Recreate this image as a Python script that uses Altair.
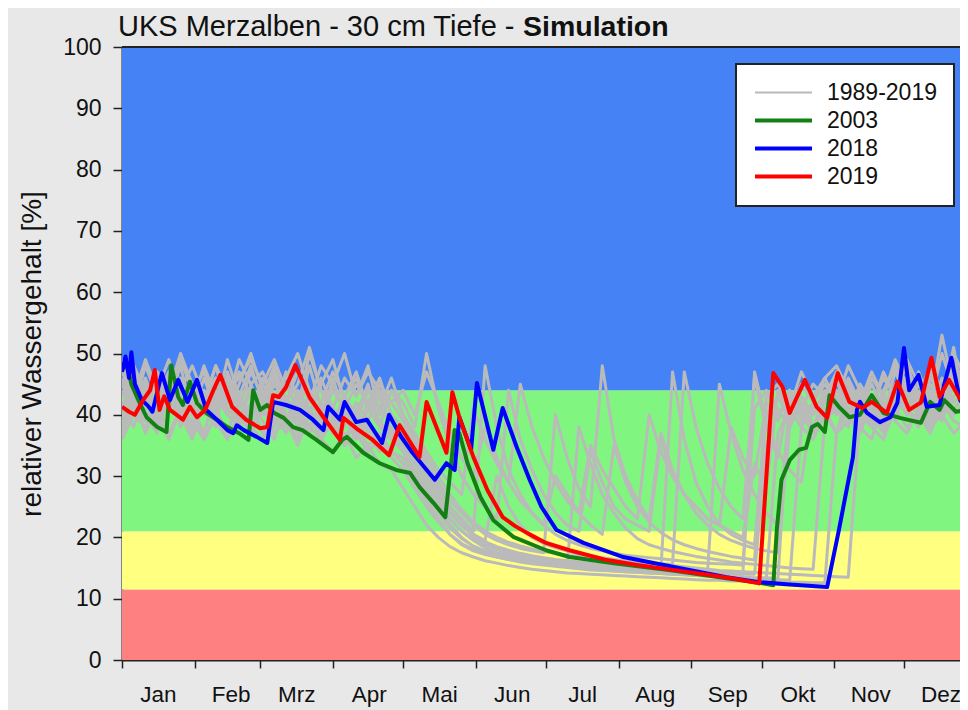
import json
import altair as alt
import pandas as pd

# ---------------- data ----------------
month_names = ["Jan", "Feb", "Mrz", "Apr", "Mai", "Jun", "Jul", "Aug", "Sep", "Okt", "Nov", "Dez"]
month_starts = [0, 31, 59, 90, 120, 151, 181, 212, 243, 273, 304, 334]

band_names = ["trocken", "mäßig", "frisch", "feucht"]
band_low = [0, 11.5, 21, 44]
band_high = [11.5, 21, 44, 100]
band_colors = ["#ff8080", "#ffff80", "#80f580", "#4582f5"]

legend_groups = ["1989-2019", "2003", "2018", "2019"]
line_colors = ["#bababa", "#128012", "#0000ff", "#ff0000"]
line_widths = [2, 4, 4, 4]

y2003_days = [0, 2, 4, 7, 10.5, 15, 19, 21, 24, 26, 29, 32, 36, 40.5, 45, 50, 54, 56, 59, 62,
              65, 69, 73, 77, 83, 90, 94, 96, 103, 110, 117, 123, 127, 133, 138, 142, 144, 147.5, 153, 158.5,
              167, 181, 191, 210, 235, 255, 272, 278, 279.5, 281.5, 285, 289, 292, 294.5, 297, 300, 302, 306, 310.5, 315,
              320, 325, 332, 341, 345, 349, 351, 356, 361]
y2003_vals = [47.3, 48.4, 45, 42.4, 39.6, 38, 37.2, 48.1, 42.9, 41.6, 45.4, 41.9, 40.3, 39.2, 38, 37, 35.9, 44, 40.8, 41.6,
              40.3, 39.5, 38, 37.5, 35.9, 33.9, 35.9, 36.4, 33.8, 32.1, 31, 30.5, 28.2, 25.6, 23.3, 37.5, 37, 32.1, 26.6, 22.8,
              20.1, 17.9, 16.8, 15.8, 14.6, 13.5, 12.6, 12.2, 21.2, 29.4, 32.6, 34.3, 34.6, 38, 38.5, 37.2, 43.2, 41.3, 39.6, 40,
              43.2, 40.3, 39.5, 38.7, 42.1, 40.8, 42.4, 40.5, 40.8]

y2018_days = [0, 1.5, 3, 4, 5.5, 8.5, 11, 13, 17, 20.5, 24, 28, 32, 36, 40.5, 45, 47.5, 49, 52, 57.5,
              62, 64.5, 70, 76, 81.5, 86, 88, 93, 95, 100, 104.5, 111, 114, 119, 124, 129, 133.5, 138.5, 142, 144,
              149, 151.5, 158.5, 162.5, 168.5, 174, 179, 185.5, 197, 214, 235, 258, 272, 285, 301, 306, 312, 313.7, 315, 318,
              323.5, 328, 331, 333.8, 336, 340, 343.5, 349, 351, 354, 357.7, 361]
y2018_vals = [47, 49.5, 46, 50.2, 45, 42.4, 41.5, 40.5, 46.8, 42.4, 45.7, 42.1, 45.7, 40.8, 39.2, 37.5, 37, 38.3, 37.5, 36.4,
              35.4, 42.1, 41.6, 40.8, 39.2, 37.5, 41.3, 39.2, 42.1, 38.8, 39.2, 35.4, 40, 36.5, 33.8, 31.5, 29.4, 32.1, 31, 39.6,
              34.3, 45.2, 34.3, 41.1, 34.7, 29.4, 25, 21.2, 19.1, 16.8, 15.2, 13.5, 12.7, 12.3, 11.9, 21.2, 33.1, 40.8, 42.1, 40.3,
              38.8, 39.6, 42, 50.9, 44, 46.5, 41.3, 41.6, 45, 49.3, 42.4, 40.8]

y2019_days = [0, 3, 5.5, 9, 12, 14, 16, 18, 20.5, 26, 29, 32, 35.5, 39, 42, 47, 53, 59, 62, 64.5,
              67, 70, 74, 80, 86, 90, 93, 94.5, 100, 107, 114, 118.5, 127, 130, 138.5, 141, 144, 150, 156, 162.5,
              168, 173, 181, 191, 207, 220, 235, 250, 262, 272, 278, 282, 285, 291.5, 296.5, 301, 305.5, 310.5, 316, 320,
              326.5, 331, 336, 341, 345.5, 349, 353, 358]
y2019_vals = [41.3, 40.5, 40, 42.4, 44, 47.3, 40.8, 43, 40.8, 39.2, 41.3, 39.6, 40.8, 44, 46.5, 41.3, 39.2, 37.8, 38, 43.2,
              42.9, 44.5, 48.1, 42.9, 39.6, 37.5, 35.9, 39.5, 37.8, 35.9, 33.4, 38.3, 33.1, 42.1, 33.8, 43.7, 39.6, 33.1, 27.7, 23.3,
              21.8, 20.7, 19.1, 17.9, 16.3, 15.5, 14.7, 13.9, 13.2, 12.5, 46.8, 44.5, 40.3, 45.7, 41.3, 39.5, 46.8, 42.1, 41.1, 42.1,
              40.3, 45.4, 40.8, 42, 49.3, 42.9, 45.7, 42.4]

# grey ensemble (years 1989-2019), sampled every 5 days
grey_days = list(range(0, 361, 5))
grey_1 = [44, 40, 46, 41, 43, 39, 45, 41, 38, 47, 42, 40,
          44, 39, 45, 41, 38, 42, 37, 40, 36, 39, 35, 34,
          32, 29, 26, 23, 20.5, 18.8, 17.8, 17.2, 16.8, 16.4, 16.1, 15.9,
          15.6, 15.4, 15.2, 15.0, 14.8, 14.7, 14.5, 14.4, 14.3, 14.2, 14.1, 14.0,
          13.9, 13.8, 13.7, 13.6, 13.5, 13.4, 13.3, 13.2, 37, 41, 38, 42,
          39, 41, 44, 40, 38, 43, 41, 46, 42, 39, 44, 41,
          43]
grey_2 = [41, 47, 43, 38, 44, 40, 36, 42, 48, 41, 39, 45,
          40, 46, 42, 39, 48, 41, 37, 43, 40, 45, 38, 36,
          34, 31, 28, 25, 22, 20, 18.5, 17.6, 17, 16.6, 16.3, 16,
          15.8, 15.6, 15.4, 38, 32, 27, 24, 21.5, 19.8, 18.8, 18.2, 17.7,
          17.3, 16.9, 16.6, 16.3, 16, 15.8, 15.6, 15.4, 15.2, 15, 14.9, 14.8,
          39, 42, 40, 45, 41, 38, 44, 40, 47, 42, 39, 45,
          41]
grey_3 = [46, 42, 39, 44, 49, 43, 40, 46, 41, 37, 43, 48,
          42, 38, 45, 41, 50, 44, 39, 43, 47, 41, 38, 44,
          40, 37, 34, 31, 29, 27, 41, 36, 32, 29, 45, 38,
          33, 29, 26, 24, 35, 31, 28, 25, 23, 40, 34, 30,
          27, 25, 23, 22, 38, 33, 30, 42, 39, 44, 41, 38,
          43, 40, 46, 42, 39, 44, 48, 41, 38, 45, 42, 47,
          43]
grey_4 = [39, 43, 37, 41, 45, 38, 42, 36, 40, 44, 38, 42,
          37, 41, 39, 36, 44, 40, 38, 35, 41, 37, 34, 38,
          35, 32, 29, 26, 23, 21, 19.5, 18.3, 17.5, 17, 16.6, 16.3,
          16, 15.8, 15.6, 15.4, 15.2, 15.1, 15, 14.9, 14.8, 14.7, 14.6, 47,
          36, 29, 25, 22, 20.5, 19.5, 18.8, 40, 43, 39, 42, 38,
          41, 37, 44, 40, 38, 42, 39, 45, 41, 38, 43, 40,
          42]
grey_5 = [42, 38, 44, 40, 36, 41, 37, 43, 39, 36, 40, 38,
          41, 37, 39, 35, 40, 36, 34, 37, 33, 35, 32, 31,
          28, 25, 22, 20, 18.5, 17.5, 16.8, 16.2, 15.8, 15.4, 15.1, 14.8,
          14.6, 14.4, 14.2, 14.1, 14, 13.9, 13.8, 13.7, 13.6, 13.5, 13.4, 13.3,
          13.2, 13.1, 13, 13, 12.9, 12.9, 12.8, 12.8, 12.7, 12.7, 12.7, 12.6,
          12.6, 37, 41, 38, 36, 42, 39, 37, 41, 38, 40, 37,
          39]
grey_6 = [47, 43, 49, 44, 41, 46, 42, 48, 43, 40, 45, 50,
          44, 41, 47, 43, 40, 45, 49, 42, 39, 44, 41, 46,
          40, 36, 32, 28, 25, 23, 21, 48, 38, 31, 27, 24,
          22, 20.5, 19.5, 18.8, 18.2, 17.8, 17.4, 17.1, 16.9, 16.7, 16.5, 16.3,
          16.1, 15.9, 15.8, 15.7, 15.6, 15.5, 41, 44, 40, 43, 39, 42,
          46, 42, 40, 44, 41, 47, 43, 40, 45, 42, 50, 44,
          46]
grey_7 = [40, 45, 42, 47, 43, 39, 44, 41, 46, 40, 43, 39,
          45, 42, 38, 43, 40, 46, 41, 38, 42, 39, 43, 37,
          36, 34, 31, 28, 25, 22.5, 20.5, 19.3, 18.5, 17.9, 17.4, 17,
          16.7, 16.4, 16.2, 16, 15.8, 15.6, 15.4, 15.3, 15.2, 15.1, 15, 14.9,
          14.8, 14.7, 14.6, 45, 37, 31, 27, 24, 22, 41, 38, 42,
          40, 44, 41, 38, 43, 39, 45, 42, 40, 46, 43, 48,
          44]
grey_8 = [43, 48, 44, 40, 46, 42, 38, 44, 41, 49, 43, 40,
          46, 43, 39, 44, 41, 38, 45, 41, 37, 42, 39, 36,
          37, 33, 30, 27, 24, 22, 20.2, 19, 18.2, 17.6, 17.1, 16.7,
          16.4, 16.1, 15.9, 15.7, 15.5, 15.3, 15.2, 15, 14.9, 14.8, 14.7, 14.6,
          14.5, 14.4, 14.3, 14.2, 14.1, 14, 14, 35, 41, 38, 43, 40,
          44, 41, 38, 45, 42, 40, 47, 43, 41, 44, 40, 46,
          42]
grey_9 = [45, 41, 48, 43, 46, 40, 44, 47, 42, 45, 41, 47,
          43, 48, 42, 45, 51, 44, 41, 46, 43, 48, 40, 44,
          42, 38, 50, 41, 35, 30, 27, 25, 23, 44, 36, 31,
          27, 24, 22, 21, 34, 29, 25, 23, 22, 21, 36, 30,
          27, 25, 23, 22, 21, 20, 32, 28, 44, 40, 45, 42,
          45, 42, 48, 44, 41, 46, 43, 49, 45, 42, 53, 44,
          47]
grey_10 = [38, 42, 40, 37, 43, 39, 41, 37, 44, 40, 38, 42,
           39, 36, 42, 38, 41, 37, 40, 36, 38, 35, 37, 34,
           33, 30, 28, 25, 23, 21, 19.8, 18.8, 18, 17.4, 16.9, 16.5,
           16.2, 15.9, 15.7, 15.5, 15.3, 15.1, 15, 14.9, 14.8, 14.7, 14.6, 14.5,
           14.4, 14.3, 14.2, 14.1, 14, 14, 47, 39, 34, 31, 29, 42,
           39, 43, 40, 37, 42, 38, 44, 41, 39, 43, 40, 45,
           41]
grey_11 = [48, 44, 41, 46, 42, 49, 44, 40, 45, 42, 47, 43,
           40, 45, 42, 47, 43, 39, 44, 41, 45, 42, 46, 40,
           38, 35, 32, 29, 26, 24, 22, 20.5, 19.5, 18.8, 18.2, 17.8,
           17.5, 40, 33, 28, 25, 48, 36, 30, 26, 23, 37, 31,
           27, 24, 22, 20.5, 19.5, 18.8, 18.2, 17.8, 17.5, 38, 42, 40,
           43, 46, 42, 40, 45, 41, 44, 48, 43, 40, 46, 42,
           44]
grey_12 = [41, 46, 39, 43, 47, 41, 38, 43, 40, 45, 39, 44,
           41, 38, 43, 40, 37, 42, 39, 36, 40, 38, 35, 39,
           36, 33, 30, 27, 24, 22, 20.5, 19.5, 30, 25, 22, 20,
           19, 18.3, 17.8, 17.3, 17, 16.7, 16.4, 16.2, 16, 15.8, 15.6, 15.4,
           15.2, 15, 14.8, 14.6, 14.5, 14.4, 14.3, 14.2, 14.1, 14, 13.9, 13.8,
           13.7, 13.6, 13.5, 40, 43, 39, 42, 46, 41, 44, 41, 43,
           45]
grey_13 = [37, 41, 45, 39, 42, 48, 40, 37, 43, 46, 40, 37,
           42, 47, 40, 37, 43, 39, 46, 40, 36, 41, 44, 37,
           34, 30, 27, 24, 21.5, 19.8, 18.6, 17.8, 17.2, 16.7, 16.3, 16,
           15.7, 15.5, 15.3, 15.1, 14.9, 14.8, 14.6, 14.5, 14.4, 14.3, 14.2, 14.1,
           14, 13.9, 13.8, 13.7, 13.6, 13.5, 13.4, 13.4, 13.3, 44, 40, 37,
           42, 46, 39, 43, 40, 37, 44, 49, 41, 38, 42, 51,
           40]
grey_14 = [49, 45, 42, 47, 44, 50, 45, 42, 48, 44, 46, 49,
           45, 49, 44, 47, 42, 48, 45, 50, 43, 47, 44, 42,
           44, 40, 47, 42, 37, 33, 30, 38, 33, 29, 26, 24,
           22, 30, 27, 24, 22, 20.5, 35, 29, 25, 22.5, 20.8, 19.6,
           18.8, 18.2, 17.7, 17.3, 16.9, 16.6, 16.3, 43, 45, 41, 47, 43,
           46, 48, 44, 42, 47, 43, 49, 45, 43, 48, 44, 50,
           46]
grey_15 = [36, 40, 38, 42, 37, 41, 39, 36, 40, 37, 43, 38,
           36, 40, 37, 41, 38, 36, 39, 35, 37, 34, 36, 33,
           31, 28, 25, 22.5, 20.5, 19, 18, 17.3, 16.8, 16.4, 16, 15.7,
           15.5, 15.3, 15.1, 14.9, 14.7, 14.6, 14.5, 14.4, 14.3, 14.2, 14.1, 14,
           13.9, 13.8, 13.7, 13.6, 13.5, 13.4, 13.3, 13.2, 13.1, 13, 38, 36,
           40, 37, 39, 42, 38, 36, 41, 38, 40, 37, 42, 39,
           38]
grey_16 = [45, 48, 43, 46, 41, 44, 48, 43, 46, 42, 49, 45,
           47, 43, 46, 50, 44, 42, 47, 43, 46, 41, 45, 42,
           39, 36, 33, 30, 27, 24.5, 22.5, 21, 20, 19.2, 18.6, 18.1,
           17.7, 17.4, 17.1, 16.9, 16.7, 16.5, 16.3, 16.1, 15.9, 15.8, 15.7, 15.6,
           47, 38, 32, 28, 25, 23, 46, 38, 33, 44, 41, 45,
           43, 47, 45, 41, 46, 43, 48, 44, 41, 47, 43, 46,
           48]
grey_series = [grey_1, grey_2, grey_3, grey_4, grey_5, grey_6, grey_7, grey_8,
               grey_9, grey_10, grey_11, grey_12, grey_13, grey_14, grey_15, grey_16]

title_main = "UKS Merzalben - 30 cm Tiefe - "
title_bold = "Simulation"
y_title = "relativer Wassergehalt [%]"

# ---------------- layout ----------------
W, H = 838, 613
X_MAX = 357.7
FONT = "Liberation Sans"
DARK = "#222222"
TXT = "#111111"


def frame(group, days, vals, series):
    n = min(len(days), len(vals))
    return pd.DataFrame({"day": days[:n], "val": vals[:n], "group": group, "series": series})


grey_df = pd.concat([frame("1989-2019", grey_days, s, f"g{i}") for i, s in enumerate(grey_series)],
                    ignore_index=True)
df03 = frame("2003", y2003_days, y2003_vals, "2003")
df18 = frame("2018", y2018_days, y2018_vals, "2018")
df19 = frame("2019", y2019_days, y2019_vals, "2019")
band_df = pd.DataFrame({"band": band_names, "lo": band_low, "hi": band_high})

label_expr = f"{json.dumps(month_names)}[indexof({json.dumps(month_starts)}, datum.value)]"

x_enc = alt.X("day:Q",
              scale=alt.Scale(domain=[0, X_MAX], nice=False, zero=False),
              axis=alt.Axis(values=month_starts, labelExpr=label_expr, labelOffset=36,
                            labelFlush=False, labelOverlap=False, tickSize=8, labelPadding=15,
                            title=None, grid=False, labelFontSize=22.5, labelColor=TXT,
                            domainColor=DARK, tickColor=DARK, domainWidth=2, tickWidth=1.5))
y_axis = alt.Axis(values=list(range(0, 101, 10)), tickSize=9, labelPadding=12, labelFontSize=23,
                  labelColor=TXT, title=y_title, titleFontSize=28, titleFontWeight="normal",
                  titleColor=TXT, titlePadding=16, grid=False, domainColor=DARK,
                  tickColor=DARK, domainWidth=2, tickWidth=1.5)
y_scale = alt.Scale(domain=[0, 100], nice=False)

legend = alt.Legend(title=None, orient="none", legendX=614, legendY=17, fillColor="white",
                    strokeColor=DARK, padding=17, symbolType="M-1,0L5,0", symbolSize=361,
                    labelFontSize=23, labelOffset=51, rowPadding=4, labelColor=TXT,
                    labelLimit=300)
color_enc = alt.Color("group:N", scale=alt.Scale(domain=legend_groups, range=line_colors), legend=legend)
width_enc = alt.StrokeWidth("group:N",
                            scale=alt.Scale(type="ordinal", domain=legend_groups, range=line_widths),
                            legend=legend)

bands = alt.Chart(band_df).mark_rect().encode(
    x=alt.value(0), x2=alt.value(W),
    y=alt.Y("lo:Q", scale=y_scale, axis=y_axis), y2="hi:Q",
    fill=alt.Fill("band:N", scale=alt.Scale(domain=band_names, range=band_colors), legend=None),
)

grey = alt.Chart(grey_df).mark_line(clip=True, strokeJoin="round", strokeWidth=3).encode(
    x=x_enc, y=alt.Y("val:Q", scale=y_scale, axis=y_axis), color=color_enc, detail="series:N")


def line_layer(df):
    return alt.Chart(df).mark_line(clip=True, strokeJoin="round").encode(
        x=x_enc, y=alt.Y("val:Q", scale=y_scale, axis=y_axis), color=color_enc, strokeWidth=width_enc)


l03 = line_layer(df03)
l18 = line_layer(df18)
l19 = line_layer(df19)

top_rule = alt.Chart(pd.DataFrame({"a": [0]})).mark_rule(color=DARK, strokeWidth=2).encode(
    x=alt.value(0), x2=alt.value(W), y=alt.value(0))

t1 = alt.Chart(pd.DataFrame({"t": [title_main]})).mark_text(
    align="left", baseline="alphabetic", fontSize=29, color=TXT).encode(
    x=alt.value(-4), y=alt.value(-11), text="t:N")
t2 = alt.Chart(pd.DataFrame({"t": [title_bold]})).mark_text(
    align="left", baseline="alphabetic", fontSize=28.5, fontWeight="bold", color=TXT).encode(
    x=alt.value(401), y=alt.value(-11), text="t:N")

chart = alt.layer(bands, grey, l03, l18, l19, top_rule, t1, t2).properties(
    width=W, height=H,
    padding={"left": 114, "top": 39, "right": 0, "bottom": 50},
    autosize=alt.AutoSizeParams(type="none"),
).configure(background="#e8e8e8", font=FONT).configure_view(stroke=None).configure_legend(strokeWidth=2)

chart.save("out.html", embed_options={"renderer": "svg", "actions": False})
